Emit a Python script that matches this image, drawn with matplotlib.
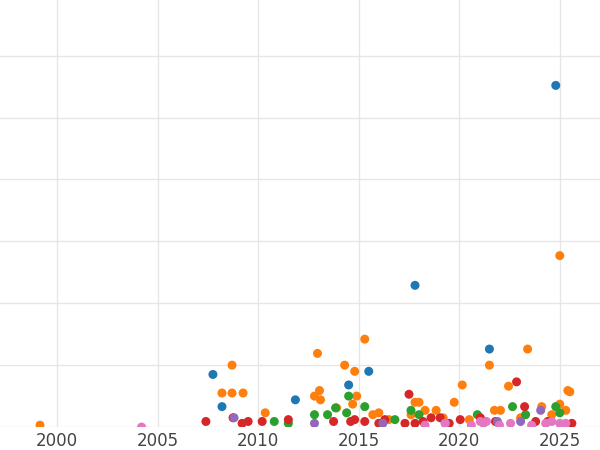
import matplotlib
matplotlib.use("Agg")
import matplotlib.pyplot as plt

# (year, value) per series
blue_x = [2007.75, 2008.2, 2011.85, 2014.5, 2015.5, 2017.8, 2021.5, 2024.8]
blue_y = [0.85, 0.33, 0.44, 0.68, 0.9, 2.29, 1.26, 5.52]

orange_x = [1999.15, 2008.2, 2008.7, 2008.7, 2009.25, 2010.35, 2012.95, 2013.05, 2013.1,
            2012.8, 2013.9, 2014.3, 2014.8, 2014.7, 2015.3, 2014.9, 2016.0, 2015.7,
            2017.6, 2017.8, 2018.0, 2018.3, 2018.85, 2019.75, 2020.15, 2021.5, 2021.75,
            2022.05, 2022.45, 2023.4, 2025.0, 2025.4, 2025.5, 2024.1, 2025.0, 2025.3,
            2023.05, 2016.5, 2019.2, 2020.5, 2024.6]
orange_y = [0.03, 0.55, 1.0, 0.55, 0.55, 0.23, 1.19, 0.59, 0.44,
            0.5, 0.31, 1.0, 0.9, 0.37, 1.42, 0.5, 0.23, 0.2,
            0.2, 0.4, 0.4, 0.27, 0.27, 0.4, 0.68, 1.0, 0.27,
            0.27, 0.66, 1.26, 2.77, 0.59, 0.57, 0.33, 0.37, 0.27,
            0.15, 0.12, 0.15, 0.12, 0.2]

green_x = [2010.8, 2011.5, 2012.8, 2013.45, 2013.85, 2014.5, 2014.4, 2015.3, 2016.8,
           2017.6, 2018.0, 2020.9, 2022.65, 2023.3, 2024.8, 2025.0]
green_y = [0.09, 0.06, 0.2, 0.2, 0.31, 0.5, 0.23, 0.33, 0.12,
           0.27, 0.2, 0.2, 0.33, 0.2, 0.33, 0.23]

red_x = [2007.4, 2008.75, 2009.2, 2009.5, 2010.2, 2011.5, 2013.75, 2014.6, 2014.8,
         2015.3, 2016.3, 2017.5, 2017.3, 2017.8, 2018.6, 2019.05, 2020.05, 2021.05,
         2022.85, 2023.25, 2023.8, 2025.6, 2016.0, 2018.2, 2019.5, 2021.8, 2024.4]
red_y = [0.09, 0.15, 0.06, 0.09, 0.09, 0.12, 0.09, 0.09, 0.12,
         0.09, 0.12, 0.53, 0.06, 0.06, 0.15, 0.15, 0.12, 0.15,
         0.73, 0.33, 0.09, 0.06, 0.06, 0.09, 0.06, 0.09, 0.09]

purple_x = [2008.8, 2012.8, 2016.2, 2024.05, 2023.05, 2019.3, 2021.9]
purple_y = [0.15, 0.06, 0.06, 0.27, 0.09, 0.06, 0.09]

pink_x = [2004.2, 2018.3, 2019.3, 2021.05, 2021.35, 2022.55, 2024.3, 2025.0, 2025.3,
          2020.6, 2023.6, 2024.6, 2021.2, 2022.0]
pink_y = [0.0, 0.03, 0.06, 0.09, 0.09, 0.06, 0.06, 0.06, 0.06,
          0.03, 0.03, 0.09, 0.06, 0.03]

series = [
    (blue_x, blue_y, "#1f77b4"),
    (orange_x, orange_y, "#ff7f0e"),
    (green_x, green_y, "#2ca02c"),
    (red_x, red_y, "#d62728"),
    (purple_x, purple_y, "#9467bd"),
    (pink_x, pink_y, "#e377c2"),
]

fig = plt.figure(figsize=(6, 4.5), dpi=100)
ax = fig.add_axes([0, 0.051, 1, 0.949])

for xs, ys, c in series:
    ax.scatter(xs, ys, s=42, color=c, edgecolors="none", zorder=3, clip_on=True)

ax.set_xlim(1997.16, 2027.0)
ax.set_ylim(0, 6.9)
ax.set_xticks([2000, 2005, 2010, 2015, 2020, 2025])
ax.set_yticks([0, 1, 2, 3, 4, 5, 6])
ax.set_yticklabels([])
ax.tick_params(axis="both", length=0, labelsize=12, colors="#444444")
ax.tick_params(axis="y", left=False)
ax.grid(True, color="#e6e6e6", linewidth=1)
ax.set_axisbelow(True)
for sp in ax.spines.values():
    sp.set_visible(False)

fig.savefig("out.png", dpi=100)
